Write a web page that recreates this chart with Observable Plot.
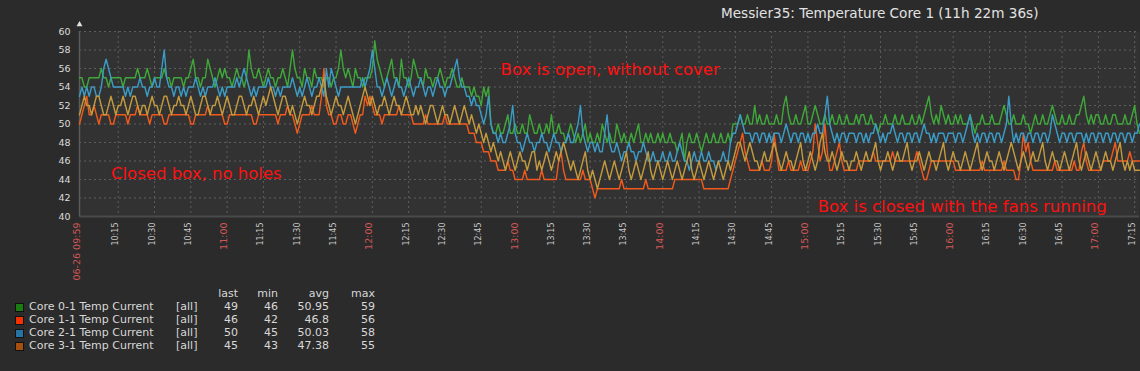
<!DOCTYPE html>
<html><head><meta charset="utf-8">
<script src="https://cdn.jsdelivr.net/npm/d3@7"></script>
<script src="https://cdn.jsdelivr.net/npm/@observablehq/plot@0.6"></script>
<style>
html,body{margin:0;padding:0;background:#2b2b2b;}
#wrap{position:relative;width:1140px;height:371px;background:#2b2b2b;font-family:"DejaVu Sans",sans-serif;overflow:hidden;}
#chart{position:absolute;left:0;top:0;}
.title{position:absolute;left:721px;top:5px;font-size:13.6px;color:#e2e2e2;white-space:nowrap;}
.lg{position:absolute;font-size:11px;color:#d8d8d8;white-space:nowrap;line-height:13px;}
.r{text-align:right;}
.sw{position:absolute;width:7px;height:7px;border:1px solid #111;}
</style></head><body>
<div id="wrap"><div id="chart"></div></div>
<script>
const chartTitle = "Messier35: Temperature Core 1 (11h 22m 36s)";
const seriesNames = ["Core 0-1 Temp Current","Core 1-1 Temp Current","Core 2-1 Temp Current","Core 3-1 Temp Current"];
const lineColors = ["#3fa83a","#f25a1c","#3b9cc6","#c49a3e"];
const swatchColors = ["#1a7c11","#f63100","#2774a4","#a54f10"];
const legendLast = ["49","46","50","45"];
const legendMin = ["46","42","45","43"];
const legendAvg = ["50.95","46.8","50.03","47.38"];
const legendMax = ["59","56","58","55"];
const legendHeader = ["last","min","avg","max"];
const sampleStart = "09:59";
const sampleStepMinutes = 1;
const domainEnd = "17:17";

const core0 = [
55,55,54,54,55,55,55,55,55,56,55,55,54,55,55,55,55,55,54,55, 55,55,55,55,56,55,55,55,56,55,54,55,55,55,55,56,55,55,54,55,
55,55,55,54,55,55,56,57,55,55,54,55,55,57,56,55,54,55,56,55, 56,55,55,54,55,56,55,55,54,55,58,56,55,55,56,55,54,55,56,55,
55,54,55,55,56,55,54,56,58,56,55,55,54,56,55,55,54,56,55,55, 55,54,55,55,54,55,55,56,58,56,55,56,55,54,56,55,55,54,55,55,
55,56,59,57,56,55,54,55,56,57,55,55,54,57,55,55,54,55,57,56, 55,55,54,56,55,55,54,55,55,56,55,54,55,55,56,55,54,54,55,54,
54,54,53,54,53,53,52,54,53,54,50,49,49,50,49,49,50,51,49,49, 50,49,49,50,49,49,51,50,49,49,50,49,49,50,49,51,49,49,50,49,
49,48,49,50,49,48,49,48,49,50,48,49,48,48,49,48,50,49,48,49, 48,48,50,49,48,49,48,48,49,48,49,50,48,48,49,48,49,48,48,49,
48,49,48,48,49,48,48,47,48,49,46,48,49,48,48,49,48,47,48,49, 48,48,49,48,48,49,48,48,49,48,50,50,50,51,50,50,51,50,50,52,
50,51,50,50,51,50,50,50,51,50,50,52,53,51,50,50,51,50,50,51, 52,50,50,51,52,51,50,50,51,50,50,51,50,50,51,50,50,51,50,50,
50,51,50,51,51,50,50,51,50,50,49,50,50,51,50,50,50,51,50,50, 51,50,50,50,51,50,50,51,50,51,52,53,51,50,51,50,52,51,50,51,
50,50,51,50,51,50,50,50,51,50,49,50,50,51,50,50,50,51,50,50, 50,51,52,51,50,50,51,50,50,50,51,50,50,49,50,51,50,50,51,50,
50,51,52,51,50,50,51,50,50,51,50,50,51,51,52,53,51,50,51,50, 51,51,50,50,51,50,50,51,51,50,50,50,51,50,50,51,52,50,49];
const core1 = [
50,51,52,53,51,51,52,51,50,51,51,51,51,50,50,51,51,51,51,51, 50,51,51,51,52,51,51,51,51,50,51,51,51,51,51,50,50,51,51,51,
51,51,51,51,51,51,50,50,51,51,51,51,51,52,51,51,51,51,51,51, 50,50,51,51,51,51,51,51,51,51,51,51,50,50,51,51,51,51,51,51,
51,51,50,51,51,51,52,51,51,50,49,50,51,51,51,51,52,51,51,51, 53,56,52,51,51,50,50,51,51,50,50,51,51,50,49,50,51,51,53,52,
53,52,51,51,51,50,51,51,51,51,51,51,52,51,51,51,51,51,50,50, 50,50,50,51,50,50,50,50,50,50,50,51,50,50,50,50,50,50,50,50,
50,49,49,49,48,48,48,47,47,47,46,46,46,45,45,45,45,46,45,45, 44,44,44,44,45,44,44,44,44,44,44,45,44,44,44,44,44,44,46,47,
45,44,44,44,44,44,44,44,45,44,44,44,43,42,43,43,43,43,43,43, 43,43,43,43,44,43,43,43,43,43,43,43,43,43,44,43,43,43,43,43,
43,43,43,43,43,43,44,44,44,44,44,44,44,44,44,44,44,44,43,43, 43,43,43,43,43,43,43,43,43,44,45,46,47,48,49,47,46,45,45,45,
45,45,46,45,45,45,46,49,47,45,45,45,45,46,45,45,45,45,46,45, 45,45,46,47,50,48,46,47,50,47,45,45,46,47,48,46,45,45,45,45,
45,45,46,46,46,46,46,46,47,46,46,46,46,46,46,46,47,46,46,46, 46,46,46,46,46,46,47,46,45,44,44,45,46,46,46,46,46,46,46,46,
46,46,45,45,45,45,45,45,45,45,45,45,45,46,45,45,45,45,45,45, 45,45,46,45,45,45,45,44,44,46,49,47,48,46,45,45,45,45,45,45,
45,45,45,46,45,45,45,45,45,45,45,46,45,45,47,48,46,45,45,45, 45,45,45,46,46,46,46,47,48,46,46,46,46,46,47,46,46,46,46];
const core2 = [
53,54,53,54,53,54,54,53,53,54,56,57,56,55,54,54,54,54,54,53, 54,53,54,54,54,55,54,54,53,54,54,55,54,54,56,58,55,54,54,53,
54,54,53,54,53,54,54,54,55,54,53,54,53,54,54,54,55,54,53,54, 53,54,54,54,54,55,54,55,56,55,54,53,54,53,54,54,54,54,55,54,
54,53,54,53,54,54,54,54,55,54,53,54,53,54,55,54,53,54,54,55, 54,53,56,54,56,55,54,53,54,54,54,54,54,54,54,54,54,55,54,55,
56,58,56,54,54,53,54,55,54,53,54,55,54,54,53,54,55,54,53,54, 54,55,54,53,54,54,53,54,55,54,54,53,54,54,55,56,57,55,54,54,
53,53,52,53,52,52,51,50,51,53,50,49,49,48,49,48,48,49,50,52, 49,48,48,47,48,49,48,48,47,48,48,49,48,48,47,48,49,48,48,47,
48,48,49,48,48,49,50,52,49,48,47,48,48,47,48,47,47,49,51,48, 47,47,48,47,46,47,47,48,47,47,46,47,47,48,47,46,46,47,46,46,
46,47,46,46,47,46,46,47,48,47,46,46,45,46,47,46,46,47,46,46, 47,46,46,45,46,46,47,46,46,48,49,49,50,51,50,49,49,49,48,49,
49,48,49,49,48,49,48,49,49,49,48,49,50,49,48,49,49,48,49,49, 48,49,48,49,49,50,49,49,51,53,50,49,48,49,48,49,49,48,49,49,
49,48,49,49,48,49,48,49,49,50,49,48,49,48,49,49,50,49,48,49, 49,48,49,49,48,49,49,48,49,50,49,49,48,49,48,49,49,49,48,49,
49,49,48,49,49,48,49,50,51,49,48,49,48,49,49,48,49,49,48,49, 49,48,49,50,53,50,48,49,48,49,49,48,49,49,48,49,49,48,49,49,
48,49,51,50,49,48,49,49,48,49,49,48,49,49,49,48,49,48,49,49, 48,49,49,48,49,49,48,49,49,48,49,49,48,49,49,48,49,49,50];
const core3 = [
51,52,53,52,52,51,52,53,53,52,51,51,52,53,52,51,52,52,53,52, 51,52,53,53,52,51,52,52,51,52,53,52,52,51,52,53,53,52,51,52,
52,53,52,52,51,52,53,52,51,51,52,53,53,52,51,52,52,53,52,51, 52,53,52,51,51,52,53,53,52,51,52,52,53,52,51,52,53,52,53,54,
53,52,51,52,53,53,52,51,52,51,50,51,52,53,52,52,51,52,53,53, 54,55,53,52,51,52,53,52,52,51,52,53,52,51,50,51,52,53,54,53,
52,53,52,51,52,52,53,52,51,52,53,52,52,51,52,53,52,51,51,52, 51,52,51,50,51,52,52,51,50,51,52,51,51,50,51,52,51,50,51,52,
51,50,51,50,49,50,49,48,49,48,47,48,47,46,47,46,45,46,47,46, 45,46,47,46,46,45,46,47,47,45,46,45,46,47,46,45,46,47,46,47,
48,47,46,45,46,45,44,45,46,47,45,44,45,44,43,44,45,46,45,44, 45,46,45,44,45,46,47,45,44,45,46,45,44,45,46,47,45,44,45,46,
45,44,45,46,45,44,45,46,45,44,45,46,47,45,44,45,46,45,44,45, 46,45,44,45,46,45,44,45,46,45,46,47,48,48,47,46,47,48,47,46,
46,45,46,47,46,46,47,48,47,46,45,46,47,46,46,45,46,47,48,46, 45,46,47,46,45,46,48,49,47,46,46,47,46,45,46,47,46,46,45,46,
46,47,46,45,46,47,46,46,47,48,46,45,46,46,47,46,45,46,47,46, 46,47,48,46,45,46,46,47,46,45,46,47,46,46,45,46,47,48,46,45,
46,47,46,46,45,46,47,46,45,46,47,48,46,45,46,47,46,46,45,46, 47,46,45,46,47,48,47,46,45,46,47,46,45,46,47,46,46,47,48,46,
45,46,47,46,46,45,46,47,46,45,46,47,48,46,45,46,47,46,45,46, 47,46,45,46,47,46,46,45,46,47,48,46,45,46,45,46,45,45,45];
const seriesValues = [core0, core1, core2, core3];

const yTicks = [40,42,44,46,48,50,52,54,56,58,60];
const xTickLabels = ["06-26 09:59","10:15","10:30","10:45","11:00","11:15","11:30","11:45","12:00","12:15","12:30","12:45","13:00","13:15","13:30","13:45","14:00","14:15","14:30","14:45","15:00","15:15","15:30","15:45","16:00","16:15","16:30","16:45","17:00","17:15"];

const annTexts = ["Closed box, no holes","Box is open, without cover","Box is closed with the fans running"];
const annTimes = ["10:12","12:53","15:04"];
const annValues = [44.6, 55.9, 41.1];

// ---- build
const toDate = s => { const [h,m] = s.slice(-5).split(":").map(Number); return new Date(Date.UTC(2014,5,26,h,m)); };
const t0 = toDate(sampleStart), t1 = toDate(domainEnd);
const rows = [];
seriesNames.forEach((name,k) => seriesValues[k].forEach((v,i) =>
  rows.push({series:name, time:new Date(+t0 + i*sampleStepMinutes*60000), value:v})));
const ticks = xTickLabels.map((lab,i) => ({label: lab, time: toDate(lab), major: i===0 || lab.endsWith(":00")}));
const anns = annTexts.map((t,i) => ({text:t, time:toDate(annTimes[i]), value:annValues[i]}));
const grid = {stroke:"#5e5e5e", strokeOpacity:1, strokeDasharray:"2,3", strokeWidth:1};

const chart = Plot.plot({
  width: 1140, height: 300,
  marginLeft: 79, marginRight: 1, marginTop: 31, marginBottom: 84,
  style: {background:"transparent", color:"#dcdcdc", fontFamily:"DejaVu Sans, sans-serif"},
  x: {type:"utc", domain:[t0,t1], axis:null},
  y: {domain:[40,60], axis:null},
  color: {domain: seriesNames, range: lineColors},
  marks: [
    Plot.frame({fill:"#323232", stroke:null}),
    Plot.gridX(ticks.slice(1).map(d=>d.time), grid),
    Plot.gridY(yTicks.slice(1), grid),
    Plot.ruleX([t0], {stroke:"#5a5a5a", strokeWidth:1.5}),
    Plot.ruleY([40], {stroke:"#4a4a4a", strokeWidth:2}),
    Plot.dot([60], {x: () => t0, y: d => d, symbol:"triangle", r:2.2, fill:"#e0e0e0", stroke:null, dy:-7}),
    Plot.axisY(yTicks, {label:null, tickSize:0, tickPadding:9, fontSize:9.5, fill:"#dcdcdc"}),
    Plot.text(ticks.filter(d=>!d.major), {x:"time", text:"label", frameAnchor:"bottom", rotate:-90, textAnchor:"end", dy:6, fontSize:8, fill:"#c8c8c8"}),
    Plot.text(ticks.filter(d=>d.major), {x:"time", text:"label", frameAnchor:"bottom", rotate:-90, textAnchor:"end", dy:6, fontSize:9.5, fill:"#d25858"}),
    Plot.line(rows, {x:"time", y:"value", z:"series", stroke:"series", strokeWidth:1.4, curve:"linear"}),
    Plot.text(anns, {x:"time", y:"value", text:"text", textAnchor:"start", fill:"#ff1010", fontSize:16.5})
  ]
});
const wrap = document.getElementById("wrap");
document.getElementById("chart").appendChild(chart);

const title = document.createElement("div");
title.className = "title"; title.textContent = chartTitle; wrap.appendChild(title);

function addSpan(text, left, top, right) {
  const s = document.createElement("div");
  s.className = "lg" + (right ? " r" : "");
  s.textContent = text;
  if (right) { s.style.left = (left - 60) + "px"; s.style.width = "60px"; } else s.style.left = left + "px";
  s.style.top = top + "px";
  wrap.appendChild(s);
}
const colRight = [238, 278, 329, 375];
legendHeader.forEach((h,j) => addSpan(h, colRight[j], 287, true));
seriesNames.forEach((name,k) => {
  const top = 300 + k*13;
  const sw = document.createElement("div");
  sw.className = "sw"; sw.style.left = "15px"; sw.style.top = (top+3) + "px"; sw.style.background = swatchColors[k];
  wrap.appendChild(sw);
  addSpan(name, 29, top, false);
  addSpan("[all]", 176, top, false);
  [legendLast[k], legendMin[k], legendAvg[k], legendMax[k]].forEach((v,j) => addSpan(v, colRight[j], top, true));
});
</script>
</body></html>
